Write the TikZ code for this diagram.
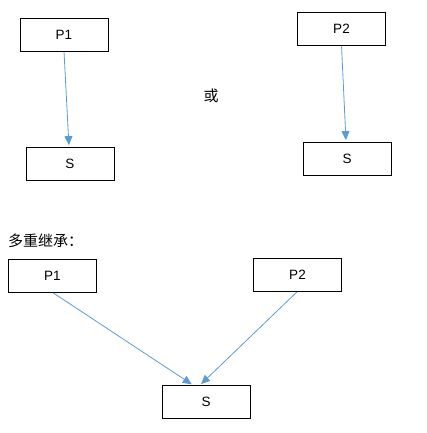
\documentclass[tikz,border=0pt]{standalone}
\usepackage{fontspec}
\setmainfont{Liberation Sans}
\newfontfamily\cjk{Noto Sans CJK SC}
\usetikzlibrary{arrows.meta}
\definecolor{arrowblue}{HTML}{5B9BD5}
\tikzset{
  box/.style={draw=black, line width=0.8pt, minimum width=88pt, minimum height=33pt, inner sep=0pt, font=\fontsize{13.5}{15}\selectfont},
  link/.style={draw=arrowblue, line width=0.8pt, -{Triangle[length=9pt,width=8pt]}, shorten >=1.5pt, shorten <=1pt},
  cjktext/.style={font=\cjk\fontsize{15}{17}\selectfont, inner sep=0pt}
}
\begin{document}
\begin{tikzpicture}[x=1pt,y=-1pt]
\useasboundingbox (0,0) rectangle (427,433);
% top left
\node[box] (p1a) at (64,34.5) {P1};
\node[box] (s1) at (70,163.5) {S};
\draw[link] (p1a.south) -- ([xshift=-1pt]s1.north);
% or
\node[cjktext] (or) at (211,96) {或};
% top right
\node[box] (p2a) at (341.5,28.5) {P2};
\node[box] (s2) at (347,158.5) {S};
\draw[link] (p2a.south) -- ([xshift=-1pt]s2.north);
% bottom
\node[cjktext, anchor=west] (title) at (8,241) {多重继承：};
\node[box] (p1b) at (52.5,275.5) {P1};
\node[box] (p2b) at (297.5,274.5) {P2};
\node[box] (sb) at (206,402) {S};
\draw[link] (p1b.south) -- ([xshift=-13pt]sb.north);
\draw[link] (p2b.south) -- ([xshift=-6pt]sb.north);
\end{tikzpicture}
\end{document}
